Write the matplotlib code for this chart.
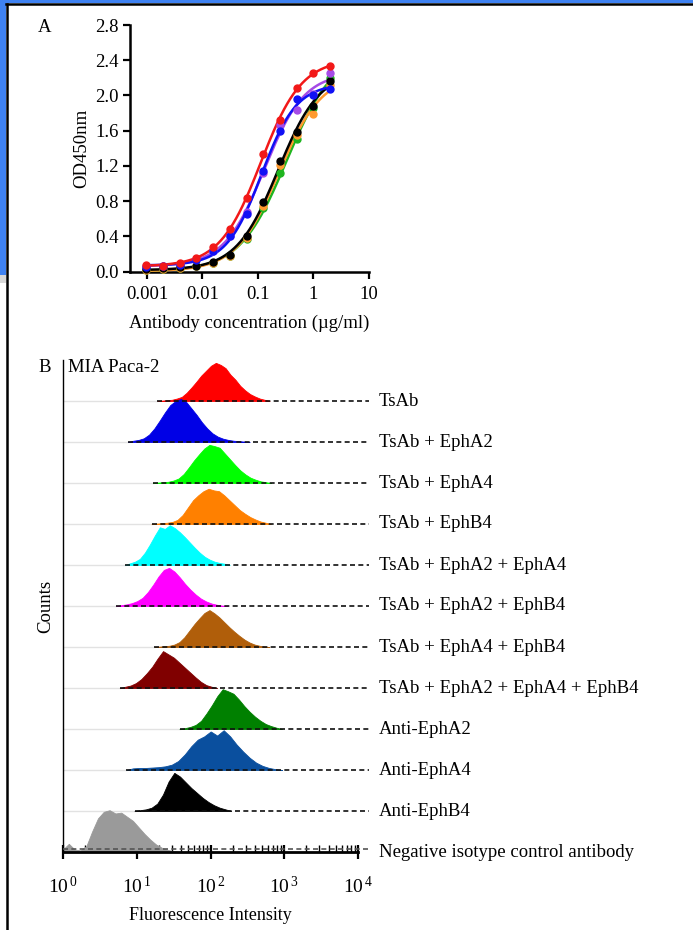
import numpy as np
import matplotlib
matplotlib.use("Agg")
import matplotlib.pyplot as plt
from matplotlib.patches import Rectangle
from matplotlib.ticker import FixedLocator

plt.rcParams['font.family'] = ['Liberation Serif', 'DejaVu Serif']
plt.rcParams['mathtext.fontset'] = 'custom'
plt.rcParams['mathtext.rm'] = 'Liberation Serif'
plt.rcParams['mathtext.it'] = 'Liberation Serif'

# ---------------- Panel A data ----------------
conc = [0.000977, 0.00195, 0.0039, 0.0078, 0.0156, 0.03125, 0.0625, 0.125, 0.25, 0.5, 1.0, 2.0]
od_red = [0.08, 0.07, 0.10, 0.15, 0.28, 0.49, 0.84, 1.34, 1.72, 2.09, 2.25, 2.33]
od_purple = [0.07, 0.07, 0.09, 0.14, 0.24, 0.40, 0.68, 1.12, 1.66, 1.84, 2.02, 2.25]
od_blue = [0.05, 0.06, 0.08, 0.13, 0.23, 0.405, 0.66, 1.14, 1.60, 1.96, 2.01, 2.07]
od_black = [0.03, 0.04, 0.05, 0.07, 0.11, 0.19, 0.40, 0.79, 1.26, 1.59, 1.88, 2.16]
od_orange = [0.02, 0.03, 0.04, 0.06, 0.10, 0.18, 0.38, 0.75, 1.21, 1.55, 1.79, 2.12]
od_green = [0.02, 0.03, 0.04, 0.06, 0.10, 0.18, 0.37, 0.72, 1.12, 1.51, 1.86, 2.20]
a_xticks = [0.001, 0.01, 0.1, 1, 10]
a_xticklabels = ['0.001', '0.01', '0.1', '1', '10']
a_yticks = [0.0, 0.4, 0.8, 1.2, 1.6, 2.0, 2.4, 2.8]

# ---------------- Panel B data ----------------
b_labels = ['TsAb', 'TsAb + EphA2', 'TsAb + EphA4', 'TsAb + EphB4',
            'TsAb + EphA2 + EphA4', 'TsAb + EphA2 + EphB4', 'TsAb + EphA4 + EphB4',
            'TsAb + EphA2 + EphA4 + EphB4', 'Anti-EphA2', 'Anti-EphA4', 'Anti-EphB4',
            'Negative isotype control antibody']
b_colors = ['#ff0000', '#0000e6', '#00ff00', '#ff8000', '#00ffff', '#ff00ff',
            '#b05e0a', '#800000', '#008000', '#0a4f9e', '#000000', '#9a9a9a']
# log10 intensity range of each histogram
b_lo = [1.28, 0.88, 1.22, 1.20, 0.84, 0.72, 1.24, 0.77, 1.58, 0.86, 0.97, 0.00]
b_hi = [2.80, 2.53, 2.82, 2.82, 2.26, 2.23, 2.80, 2.09, 2.97, 2.97, 2.28, 1.58]
b_counts = [
    [0.0, 0.01, 0.02, 0.03, 0.06, 0.10, 0.20, 0.33, 0.47, 0.62, 0.74, 0.86, 0.93, 0.88, 0.80, 0.64, 0.52, 0.37, 0.26, 0.17, 0.11, 0.06, 0.03, 0.0],
    [0.0, 0.03, 0.05, 0.09, 0.18, 0.33, 0.52, 0.72, 0.90, 1.00, 1.05, 0.98, 0.82, 0.66, 0.48, 0.33, 0.21, 0.13, 0.08, 0.05, 0.03, 0.02, 0.01, 0.0],
    [0.0, 0.01, 0.02, 0.03, 0.06, 0.11, 0.22, 0.38, 0.55, 0.70, 0.84, 0.93, 0.90, 0.86, 0.72, 0.58, 0.44, 0.31, 0.21, 0.13, 0.08, 0.04, 0.02, 0.0],
    [0.0, 0.01, 0.02, 0.03, 0.05, 0.10, 0.22, 0.40, 0.58, 0.70, 0.80, 0.86, 0.82, 0.80, 0.70, 0.58, 0.46, 0.34, 0.25, 0.17, 0.11, 0.06, 0.03, 0.0],
    [0.0, 0.04, 0.08, 0.15, 0.30, 0.50, 0.72, 0.92, 0.88, 0.97, 0.90, 0.80, 0.68, 0.55, 0.42, 0.30, 0.20, 0.13, 0.08, 0.05, 0.03, 0.0],
    [0.0, 0.02, 0.04, 0.07, 0.12, 0.20, 0.34, 0.52, 0.72, 0.88, 0.93, 0.84, 0.70, 0.54, 0.40, 0.28, 0.18, 0.11, 0.06, 0.03, 0.01, 0.0],
    [0.0, 0.01, 0.02, 0.03, 0.06, 0.12, 0.24, 0.40, 0.56, 0.70, 0.83, 0.90, 0.82, 0.72, 0.60, 0.48, 0.37, 0.27, 0.18, 0.11, 0.06, 0.03, 0.01, 0.0],
    [0.0, 0.03, 0.06, 0.12, 0.22, 0.36, 0.52, 0.72, 0.90, 0.82, 0.74, 0.62, 0.50, 0.38, 0.26, 0.15, 0.07, 0.03, 0.0],
    [0.0, 0.02, 0.05, 0.10, 0.20, 0.38, 0.58, 0.80, 0.97, 0.92, 0.86, 0.72, 0.56, 0.42, 0.30, 0.20, 0.12, 0.07, 0.03, 0.0],
    [0.0, 0.04, 0.05, 0.05, 0.06, 0.07, 0.09, 0.13, 0.22, 0.38, 0.58, 0.74, 0.82, 0.94, 0.84, 0.97, 0.82, 0.62, 0.45, 0.30, 0.18, 0.10, 0.05, 0.02, 0.0],
    [0.0, 0.02, 0.04, 0.08, 0.18, 0.40, 0.72, 0.93, 0.84, 0.70, 0.56, 0.44, 0.32, 0.22, 0.14, 0.08, 0.04, 0.0],
    [0.06, 0.20, 0.06, 0.04, 0.14, 0.50, 0.82, 0.98, 1.02, 0.94, 0.96, 0.86, 0.76, 0.60, 0.44, 0.30, 0.18, 0.10, 0.05, 0.02, 0.0],
]
b_xticklabels = [r'$10^{\,0}$', r'$10^{\,1}$', r'$10^{\,2}$', r'$10^{\,3}$', r'$10^{\,4}$']

W, H = 693, 930
fig = plt.figure(figsize=(W / 100, H / 100), dpi=100)

# slide frame decorations
bg = fig.add_axes([0, 0, 1, 1])
bg.set_xlim(0, W)
bg.set_ylim(H, 0)
bg.axis('off')
bg.add_patch(Rectangle((0, 0), W, 3.5, color='#3f82f2', lw=0))
bg.add_patch(Rectangle((0, 0), 6, 275, color='#3f82f2', lw=0))
bg.add_patch(Rectangle((0, 275), 6, 8, color='#d8d8d8', lw=0))
bg.plot([6, W], [4.3, 4.3], color='black', lw=1.8)
bg.plot([7, 7], [4, H], color='black', lw=1.8)

fs = 13.5

# ---------------- Panel A ----------------
axA = fig.add_axes([130 / W, 1 - 271.7 / H, (369 - 130) / W, (271.7 - 25) / H])
axA.set_xscale('log')
axA.set_xlim(10 ** -3.306, 10)
axA.set_ylim(0, 2.8)


def fit4pl(x, y):
    lx = np.log10(np.asarray(x))
    y = np.asarray(y)
    best = None
    for le in np.linspace(-2.5, 1.0, 281):
        for h in np.linspace(0.5, 2.5, 81):
            s = 1.0 / (1.0 + 10 ** ((le - lx) * h))
            A = np.vstack([1 - s, s]).T
            coef, res, *_ = np.linalg.lstsq(A, y, rcond=None)
            r = np.sum((A @ coef - y) ** 2)
            if best is None or r < best[0]:
                best = (r, le, h, coef)
    _, le, h, coef = best

    def f(xx):
        s = 1.0 / (1.0 + 10 ** ((le - np.log10(xx)) * h))
        return coef[0] * (1 - s) + coef[1] * s
    return f


series = [(od_green, '#1fb51f'), (od_orange, '#ff9a2e'), (od_black, '#000000'),
          (od_purple, '#a54be6'), (od_blue, '#1010f5'), (od_red, '#f21818')]
xx = np.logspace(np.log10(conc[0]), np.log10(conc[-1]), 300)
for vals, col in series:
    f = fit4pl(conc, vals)
    axA.plot(xx, f(xx), color=col, lw=1.8, clip_on=False, zorder=3)
    axA.plot(conc, vals, 'o', color=col, ms=5, clip_on=False, zorder=4)

axA.set_xticks(a_xticks)
axA.set_xticklabels(a_xticklabels)
axA.xaxis.set_minor_locator(FixedLocator([]))
axA.set_yticks(a_yticks)
axA.set_yticklabels([f'{v:.1f}' for v in a_yticks])
for s in ['top', 'right']:
    axA.spines[s].set_visible(False)
for s in ['left', 'bottom']:
    axA.spines[s].set_linewidth(1.8)
axA.tick_params(axis='both', which='major', length=5, width=1.6, labelsize=fs, pad=3)
axA.tick_params(axis='x', pad=5)
axA.set_ylabel('OD450nm', fontsize=fs, labelpad=4)
axA.set_xlabel('Antibody concentration (µg/ml)', fontsize=fs, labelpad=9)
fig.text(45 / W, 1 - 28 / H, 'A', fontsize=fs, ha='center', va='center')

# ---------------- Panel B ----------------
axB = fig.add_axes([63 / W, 1 - 852 / H, (358 - 63) / W, (852 - 360) / H])
axB.set_xlim(0, 4)
axB.set_ylim(0, 12.0)
n = len(b_labels)
for i in range(n):
    base = n - 1 - i
    h = np.asarray(b_counts[i])
    xs = np.linspace(b_lo[i], b_hi[i], len(h))
    axB.plot([0, b_lo[i]], [base, base], color='#e2e2e2', lw=1.0, zorder=1)
    axB.fill_between(xs, base, base + h, color=b_colors[i], lw=0.6,
                     edgecolor=b_colors[i], zorder=2)
    dcol = '#555555' if i == n - 1 else '#111111'
    y0 = base + 0.08 if i == n - 1 else base
    axB.plot([b_lo[i], 4.15], [y0, y0], color=dcol, lw=1.2,
             ls=(0, (3, 2)), clip_on=False, zorder=3)
    axB.text(4.28, base, b_labels[i], fontsize=fs, va='center', ha='left',
             clip_on=False)

axB.set_xticks([0, 1, 2, 3, 4])
axB.set_xticklabels(b_xticklabels)
minor = []
for d in range(4):
    minor += [d + np.log10(k) for k in range(2, 10)]
axB.xaxis.set_minor_locator(FixedLocator(minor))
axB.set_yticks([])
for s in ['top', 'right']:
    axB.spines[s].set_visible(False)
axB.spines['left'].set_linewidth(1.0)
axB.spines['bottom'].set_linewidth(2.0)
axB.tick_params(axis='x', which='major', length=10, width=1.6, direction='inout',
                labelsize=fs + 0.5, pad=12)
axB.tick_params(axis='x', which='minor', length=5, width=1.0, direction='in')
axB.set_xlabel('Fluorescence Intensity', fontsize=fs - 0.5, labelpad=7)
axB.set_ylabel('Counts', fontsize=fs, labelpad=6)
fig.text(45 / W, 1 - 367 / H, 'B', fontsize=fs, ha='center', va='center')
fig.text(68 / W, 1 - 367 / H, 'MIA Paca-2', fontsize=fs, ha='left', va='center')

fig.savefig('out.png', dpi=100)
